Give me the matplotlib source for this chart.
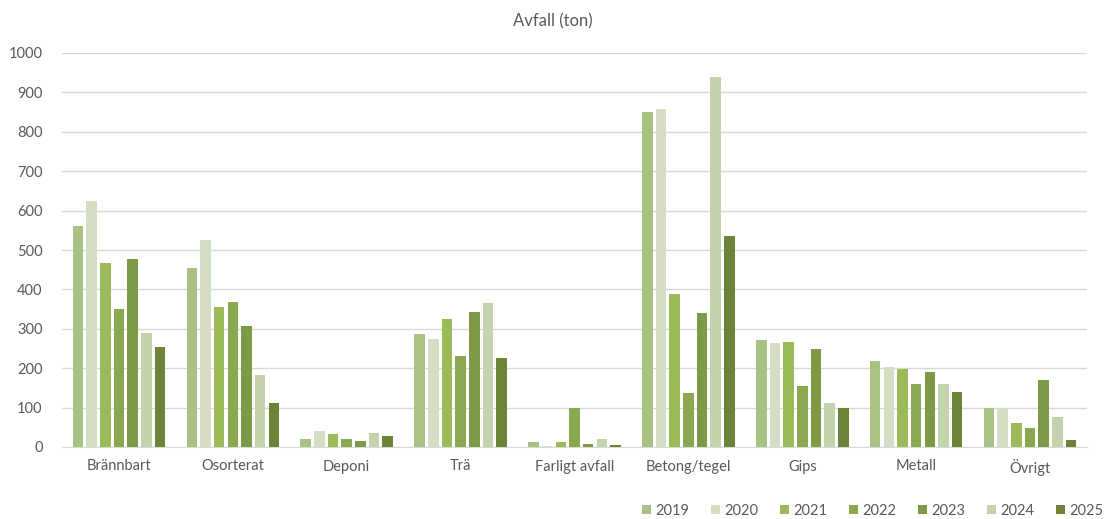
import matplotlib
matplotlib.use("Agg")
import matplotlib.pyplot as plt
import numpy as np

categories = ["Brännbart", "Osorterat", "Deponi", "Trä", "Farligt avfall",
              "Betong/tegel", "Gips", "Metall", "Övrigt"]
years = ["2019", "2020", "2021", "2022", "2023", "2024", "2025"]
v2019 = [560, 454, 20, 286, 13, 851, 272, 218, 98]
v2020 = [624, 525, 41, 273, 3, 858, 263, 204, 98]
v2021 = [467, 356, 32, 325, 13, 388, 267, 199, 62]
v2022 = [351, 368, 20, 231, 98, 138, 156, 160, 48]
v2023 = [476, 306, 15, 343, 8, 339, 249, 191, 170]
v2024 = [289, 182, 36, 365, 21, 939, 111, 160, 75]
v2025 = [253, 111, 28, 227, 4, 536, 98, 139, 18]
series = [v2019, v2020, v2021, v2022, v2023, v2024, v2025]
colors = ["#A8C284", "#D4DEC4", "#9BBB59", "#89A84F", "#7D9B47", "#C4D4AA", "#6B8438"]

plt.rcParams['font.family'] = ['Lato', 'DejaVu Sans']
txt = "#595959"

fig = plt.figure(figsize=(11.05, 5.19), dpi=100)
ax = fig.add_axes([62/1105, 1 - 447/519, (1087-62)/1105, (447-53)/519])

x = np.arange(len(categories))
slot = 0.12
for i, (vals, c, y) in enumerate(zip(series, colors, years)):
    off = (i - 3) * slot
    ax.bar(x + off, vals, width=slot * 0.78, color=c, label=y, zorder=3)

ax.set_xlim(-0.5, len(categories) - 0.5)
ax.set_ylim(0, 1000)
ax.set_yticks(range(0, 1001, 100))
ax.yaxis.grid(True, color="#D9D9D9", linewidth=1, zorder=0)
ax.set_axisbelow(True)
for s in ["top", "right", "left"]:
    ax.spines[s].set_visible(False)
ax.spines["bottom"].set_color("#D9D9D9")
ax.tick_params(axis="both", length=0, colors=txt, labelsize=10.5)
ax.tick_params(axis="y", pad=14)
ax.tick_params(axis="x", pad=9)
ax.set_xticks(x)
ax.set_xticklabels(categories)

fig.text(0.5, 1 - 21/519, "Avfall (ton)", ha="center", va="center", fontsize=12, color=txt)

leg = fig.legend(loc="center", bbox_to_anchor=(873/1105, 1 - 511/519), ncol=7, frameon=False,
                 fontsize=10.5, handlelength=0.6, handleheight=0.6, handletextpad=0.3,
                 columnspacing=1.5, labelcolor=txt)

fig.savefig("out.png", dpi=100)
